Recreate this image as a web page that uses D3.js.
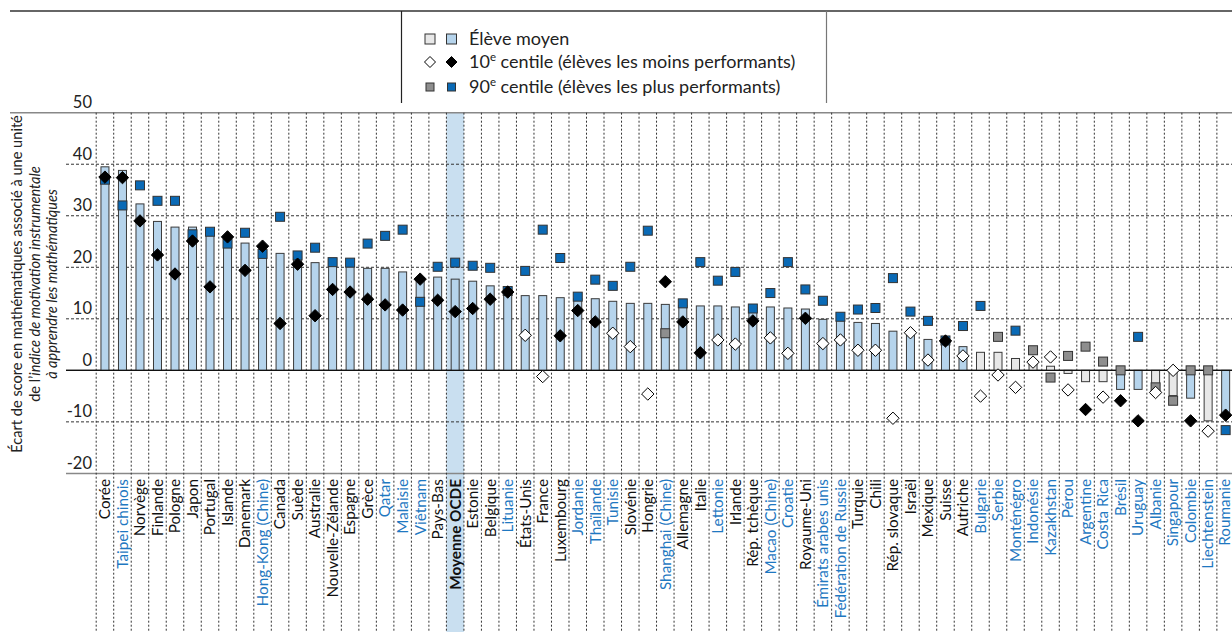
<!DOCTYPE html>
<html><head><meta charset="utf-8">
<script src="https://cdn.jsdelivr.net/npm/d3@7/dist/d3.min.js"></script>
<style>
html,body{margin:0;padding:0;background:#fff;}
svg{display:block;font-family:Lato,"Noto Sans",sans-serif;}
</style></head>
<body><svg id="chart" width="1232" height="632"></svg>
<script>
const countries = ["Corée","Taipei chinois","Norvège","Finlande","Pologne","Japon","Portugal","Islande","Danemark","Hong-Kong (Chine)","Canada","Suède","Australie","Nouvelle-Zélande","Espagne","Grèce","Qatar","Malaisie","Viêtnam","Pays-Bas","Moyenne OCDE","Estonie","Belgique","Lituanie","États-Unis","France","Luxembourg","Jordanie","Thaïlande","Tunisie","Slovénie","Hongrie","Shanghai (Chine)","Allemagne","Italie","Lettonie","Irlande","Rép. tchèque","Macao (Chine)","Croatie","Royaume-Uni","Émirats arabes unis","Fédération de Russie","Turquie","Chili","Rép. slovaque","Israël","Mexique","Suisse","Autriche","Bulgarie","Serbie","Monténégro","Indonésie","Kazakhstan","Pérou","Argentine","Costa Rica","Brésil","Uruguay","Albanie","Singapour","Colombie","Liechtenstein","Roumanie"];
const partners = ["Taipei chinois","Hong-Kong (Chine)","Qatar","Malaisie","Viêtnam","Lituanie","Jordanie","Thaïlande","Tunisie","Shanghai (Chine)","Lettonie","Macao (Chine)","Croatie","Émirats arabes unis","Fédération de Russie","Bulgarie","Serbie","Monténégro","Indonésie","Kazakhstan","Pérou","Argentine","Costa Rica","Brésil","Uruguay","Albanie","Singapour","Colombie","Liechtenstein","Roumanie"];
const oecdAverage = "Moyenne OCDE";
// Élève moyen (bars)
const meanValues = [39.5,38.8,32.3,28.9,27.8,27.8,27.4,25.0,24.7,23.0,22.7,22.0,20.9,21.7,20.1,19.8,19.8,19.1,18.0,18.1,17.7,17.3,16.4,15.6,14.5,14.5,14.1,13.9,13.9,13.4,13.0,13.0,12.8,12.6,12.5,12.5,12.3,12.2,12.3,12.1,11.9,9.9,9.7,9.3,9.1,7.6,6.8,6.0,5.9,4.6,3.5,3.5,2.3,1.4,0.8,-0.6,-2.2,-2.2,-3.7,-3.7,-3.0,-4.9,-5.4,-9.8,-8.3];
const meanSignificant = [1,1,1,1,1,1,1,1,1,1,1,1,1,1,1,1,1,1,1,1,1,1,1,1,1,1,1,1,1,1,1,1,1,1,1,1,1,1,1,1,1,1,1,1,1,1,1,1,1,1,0,0,0,0,0,0,0,0,1,1,0,0,1,0,1];
// 10e centile (diamonds)
const p10Values = [37.5,37.4,29.0,22.4,18.7,25.1,16.2,25.9,19.4,24.1,9.1,20.6,10.6,15.7,15.2,13.8,12.7,11.7,17.7,13.6,11.4,12.0,13.8,15.2,6.8,-1.2,6.7,11.6,9.4,7.2,4.6,-4.6,17.2,9.4,3.4,5.9,5.1,9.6,6.3,3.3,10.1,5.2,5.9,3.9,3.9,-9.3,7.3,2.0,5.7,2.8,-5.0,-0.9,-3.3,1.6,2.6,-3.8,-7.6,-5.2,-5.9,-9.8,-4.3,0.0,-9.8,-11.8,-8.7];
const p10Significant = [1,1,1,1,1,1,1,1,1,1,1,1,1,1,1,1,1,1,1,1,1,1,1,1,0,0,1,1,1,0,0,0,1,1,1,0,0,1,0,0,1,0,0,0,0,0,0,0,1,0,0,0,0,0,0,0,1,0,1,1,0,0,1,0,1];
// 90e centile (squares)
const p90Values = [37.0,32.0,35.9,32.9,32.9,26.4,26.9,24.6,26.7,22.6,29.8,22.3,23.8,21.0,20.9,24.6,26.1,27.3,13.3,20.1,20.9,20.3,19.9,15.4,19.3,27.3,21.8,14.3,17.6,16.4,20.1,27.1,7.2,13.0,21.0,17.4,19.1,12.0,15.0,21.0,15.7,13.5,10.4,11.8,12.1,17.9,11.4,9.6,5.8,8.6,12.5,6.5,7.7,3.9,-1.4,2.8,4.6,1.7,0.0,6.5,-3.3,-5.9,0.0,0.0,-11.6];
const p90Significant = [1,1,1,1,1,1,1,1,1,1,1,1,1,1,1,1,1,1,1,1,1,1,1,1,1,1,1,1,1,1,1,1,0,1,1,1,1,1,1,1,1,1,1,1,1,1,1,1,1,1,1,0,1,0,0,0,0,0,0,1,0,0,0,0,1];
const yTickValues = [-20,-10,0,10,20,30,40,50];
const legendLabels = ["Élève moyen","10","90"];

const C = {blueBar:"#b6d4ec", grayBar:"#e8e8e8", blueSq:"#0a6ab6", graySq:"#8e8e8e", partner:"#1f78c1", band:"#c9dff0"};
const svg = d3.select("#chart");
const x = d3.scaleBand().domain(countries).range([96.2, 1234.4]).padding(0);
const y = d3.scaleLinear().domain([-20, 50]).range([473.4, 112.7]);
const bw = x.bandwidth();
const cx = c => x(c) + bw / 2;

// top frame + legend separators
svg.append("line").attr("x1",10).attr("x2",1232).attr("y1",11).attr("y2",11).attr("stroke","#333").attr("stroke-width",1.5);
svg.append("line").attr("x1",401.5).attr("x2",401.5).attr("y1",11).attr("y2",103).attr("stroke","#222").attr("stroke-width",1.2);
svg.append("line").attr("x1",826.5).attr("x2",826.5).attr("y1",11).attr("y2",103).attr("stroke","#777").attr("stroke-width",1.2);

// OECD band
svg.append("rect").attr("x", x(oecdAverage)).attr("y", y(50)).attr("width", bw).attr("height", 632 - y(50)).attr("fill", C.band);

// horizontal grid
yTickValues.forEach(v => {
  const l = svg.append("line").attr("y1", y(v)).attr("y2", y(v)).attr("x2", 1232);
  if (v === 50) l.attr("x1", 10).attr("stroke", "#888").attr("stroke-width", 1.5);
  else if (v === 0) l.attr("x1", 66).attr("stroke", "#111").attr("stroke-width", 1.3);
  else if (v === -20) l.attr("x1", 66).attr("stroke", "#888").attr("stroke-width", 1.5);
  else l.attr("x1", 66).attr("stroke", "#333").attr("stroke-width", 1).attr("stroke-dasharray", "3,2");
});
// vertical dotted separators
const bounds = countries.map(c => x(c)).concat([x.range()[1]]);
svg.selectAll(".vsep").data(bounds).join("line")
  .attr("x1", d => d).attr("x2", d => d).attr("y1", y(50)).attr("y2", 632)
  .attr("stroke", "#333").attr("stroke-width", 1).attr("stroke-dasharray", "2,2");

// y tick labels
svg.selectAll(".ytick").data(yTickValues).join("text")
  .attr("x", 92).attr("y", d => y(d) - 4.5).attr("text-anchor", "end")
  .attr("font-size", 16.5).attr("fill", "#222").text(d => d);

// y axis title
const titleLines = [
  [["Écart de score en mathématiques associé à une unité", false]],
  [["de l’", false], ["indice de motivation instrumentale", true]],
  [["à apprendre les mathématiques", true]]
];
const titleX = [17, 35, 52];
titleLines.forEach((parts, i) => {
  const t = svg.append("text").attr("transform", `translate(${titleX[i]},284) rotate(-90)`)
    .attr("text-anchor", "middle").attr("dy", "0.35em").attr("font-size", 14.6).attr("fill", "#222");
  parts.forEach(p => t.append("tspan").attr("font-style", p[1] ? "italic" : "normal").text(p[0]));
});

const rows = countries.map((c, i) => ({c, i, mean: meanValues[i], ms: meanSignificant[i], p10: p10Values[i], s10: p10Significant[i], p90: p90Values[i], s90: p90Significant[i]}));

// bars
const barW = 8;
svg.selectAll(".bar").data(rows).join("rect")
  .attr("x", d => cx(d.c) - barW / 2).attr("width", barW)
  .attr("y", d => y(Math.max(0, d.mean))).attr("height", d => Math.abs(y(d.mean) - y(0)))
  .attr("fill", d => d.ms ? C.blueBar : C.grayBar).attr("stroke", "#3a3a3a").attr("stroke-width", 1);
// re-draw zero line over bars
svg.append("line").attr("x1", 66).attr("x2", 1232).attr("y1", y(0)).attr("y2", y(0)).attr("stroke", "#111").attr("stroke-width", 1.3);

// squares (90th)
const sq = 9;
svg.selectAll(".sq").data(rows).join("rect")
  .attr("x", d => cx(d.c) - sq / 2).attr("y", d => y(d.p90) - sq / 2).attr("width", sq).attr("height", sq)
  .attr("fill", d => d.s90 ? C.blueSq : C.graySq).attr("stroke", "#333").attr("stroke-width", 1);

// diamonds (10th)
const dm = 6.2;
svg.selectAll(".dm").data(rows).join("path")
  .attr("d", d => { const X = cx(d.c), Y = y(d.p10); return `M${X},${Y-dm}L${X+dm},${Y}L${X},${Y+dm}L${X-dm},${Y}Z`; })
  .attr("fill", d => d.s10 ? "#000" : "#fff").attr("stroke", "#000").attr("stroke-width", 1);

// category labels
svg.selectAll(".lab").data(countries).join("text")
  .attr("transform", d => `translate(${Math.min(cx(d), 1224.5)},479) rotate(-90)`)
  .attr("text-anchor", "end").attr("dy", "0.35em").attr("font-size", 15.3)
  .attr("font-weight", d => d === oecdAverage ? "bold" : "normal")
  .attr("fill", d => partners.includes(d) ? C.partner : "#111")
  .text(d => d);

// legend
const lg = svg.append("g").attr("font-size", 18).attr("fill", "#222");
lg.append("rect").attr("x", 425).attr("y", 34).attr("width", 10).attr("height", 10).attr("fill", C.grayBar).attr("stroke", "#333");
lg.append("rect").attr("x", 446.5).attr("y", 34).attr("width", 10).attr("height", 10).attr("fill", C.blueBar).attr("stroke", "#333");
lg.append("text").attr("x", 469).attr("y", 45).text(legendLabels[0]);
const dPath = (X, Y, r) => `M${X},${Y-r}L${X+r},${Y}L${X},${Y+r}L${X-r},${Y}Z`;
lg.append("path").attr("d", dPath(430, 62, 5.5)).attr("fill", "#fff").attr("stroke", "#000");
lg.append("path").attr("d", dPath(451.5, 62, 5.5)).attr("fill", "#000").attr("stroke", "#000");
const t2 = lg.append("text").attr("x", 469).attr("y", 68);
t2.append("tspan").text(legendLabels[1]);
t2.append("tspan").attr("dy", -7).attr("font-size", 11.5).text("e");
t2.append("tspan").attr("dy", 7).text(" centile (élèves les moins performants)");
lg.append("rect").attr("x", 426).attr("y", 83).attr("width", 8).attr("height", 8).attr("fill", C.graySq).attr("stroke", "#333");
lg.append("rect").attr("x", 447.5).attr("y", 83).attr("width", 8).attr("height", 8).attr("fill", C.blueSq).attr("stroke", "#333");
const t3 = lg.append("text").attr("x", 469).attr("y", 92.5);
t3.append("tspan").text(legendLabels[2]);
t3.append("tspan").attr("dy", -7).attr("font-size", 11.5).text("e");
t3.append("tspan").attr("dy", 7).text(" centile (élèves les plus performants)");
</script></body></html>
